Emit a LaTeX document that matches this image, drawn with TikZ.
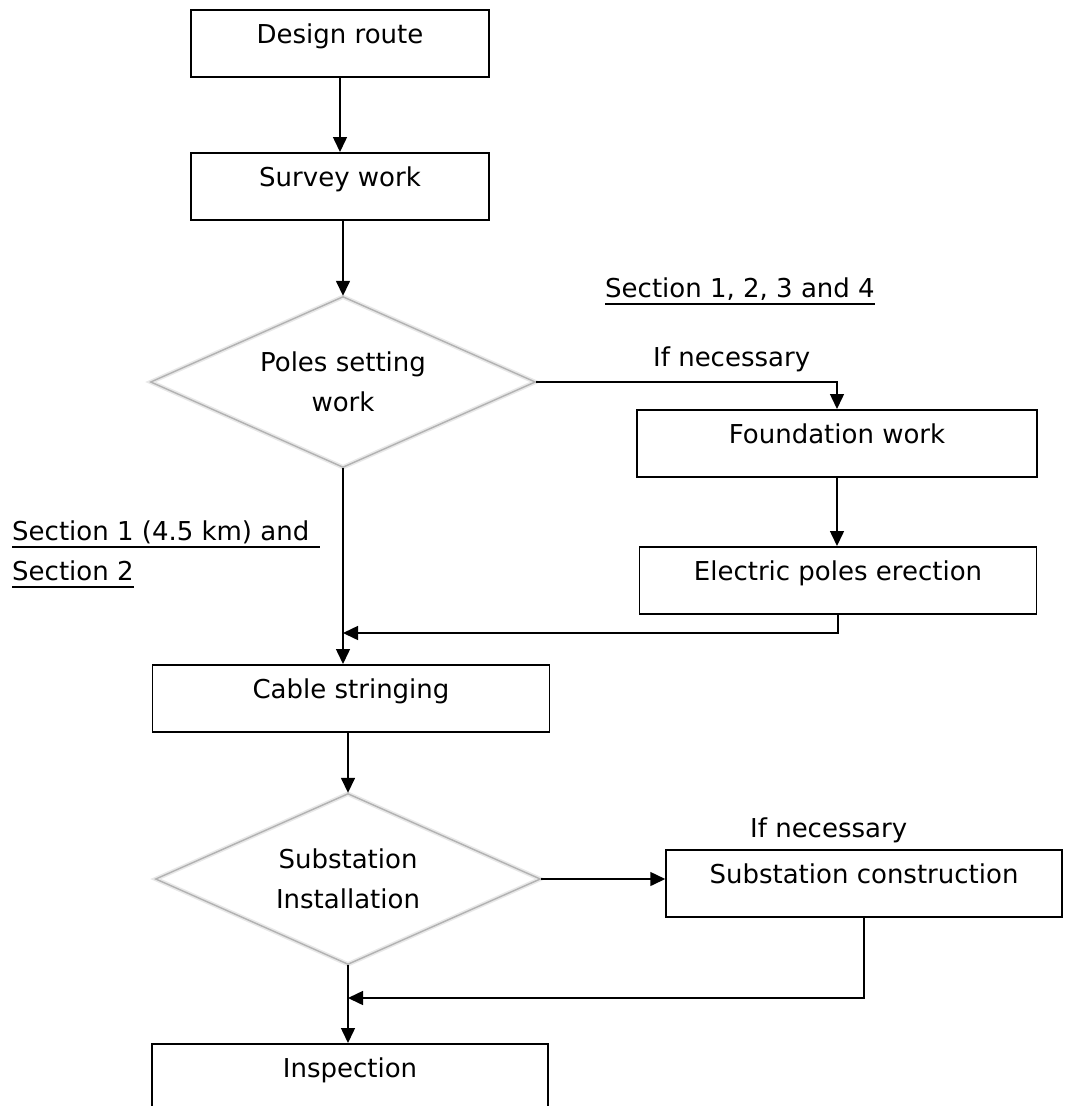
\documentclass[tikz,border=0pt]{standalone}
\usepackage{fontspec}
\setmainfont{DejaVu Sans}
\usetikzlibrary{arrows.meta,shapes.geometric}

\tikzset{
  every node/.style={font=\fontsize{26}{40}\selectfont, inner sep=0pt},
  stepbox/.style={draw=black, line width=1.5pt, rectangle, anchor=north,
    text height=34pt, text depth=33pt},
  decision/.style={diamond, aspect=2.25, draw=gray!60, line width=1.4pt,
    preaction={draw=gray!18, line width=4.5pt},
    minimum width=385pt, minimum height=171pt, align=center},
  flow/.style={line width=1.5pt, -{Triangle[length=15pt,width=14pt]}},
  note/.style={anchor=base west},
  uline/.style={line width=1.8pt}
}

\begin{document}
\begin{tikzpicture}[x=1pt, y=-1pt]
  \useasboundingbox (0,0) rectangle (1066,1106);
  \clip (0,0) rectangle (1066,1106);

  % main column of steps
  \node[stepbox, minimum width=298pt] (design) at (340,9) {Design route};
  \node[stepbox, minimum width=298pt] (survey) at (340,152) {Survey work};
  \node[decision] (poles) at (343,382) {Poles setting\\work};
  \node[stepbox, minimum width=400pt] (found) at (837,409) {Foundation work};
  \node[stepbox, minimum width=397pt] (erect) at (838,546) {Electric poles erection};
  \node[stepbox, minimum width=397pt] (cable) at (351,664) {Cable stringing};
  \node[decision] (subst) at (348,879) {Substation\\Installation};
  \node[stepbox, minimum width=396pt] (subcon) at (864,849) {Substation construction};
  \node[stepbox, minimum width=396pt] (insp) at (350,1043) {Inspection};

  % side notes
  \node[note] (nec1) at (653,366) {If necessary};
  \node[note] (nec2) at (750,837) {If necessary};
  \node[note] (secall) at (605,297) {Section 1, 2, 3 and 4};
  \node[note] (secA) at (12,540) {Section 1 (4.5 km) and};
  \node[note] (secB) at (12,580) {Section 2};

  % underlines of the section notes
  \draw[uline] ([yshift=-7pt]secall.base west) -- ([yshift=-7pt]secall.base east);
  \draw[uline] ([yshift=-7pt]secA.base west) -- ([xshift=10pt,yshift=-7pt]secA.base east);
  \draw[uline] ([yshift=-7pt]secB.base west) -- ([yshift=-7pt]secB.base east);

  % join points on the main column
  \coordinate (j1) at (343,633);
  \coordinate (j2) at (348,998);

  % connectors
  \draw[flow] (design.south) -- (survey.north);
  \draw[flow] (poles.north |- survey.south) -- (poles.north);
  \draw[flow] (poles.east) -| (found.north);
  \draw[flow] (found.south) -- (found.south |- erect.north);
  \draw[flow] (erect.south) |- (j1);
  \draw[flow] (poles.south) -- (poles.south |- cable.north);
  \draw[flow] (subst.north |- cable.south) -- (subst.north);
  \draw[flow] (subst.east) -- (subst.east -| subcon.west);
  \draw[flow] (subcon.south) |- (j2);
  \draw[flow] (subst.south) -- (subst.south |- insp.north);
\end{tikzpicture}
\end{document}
